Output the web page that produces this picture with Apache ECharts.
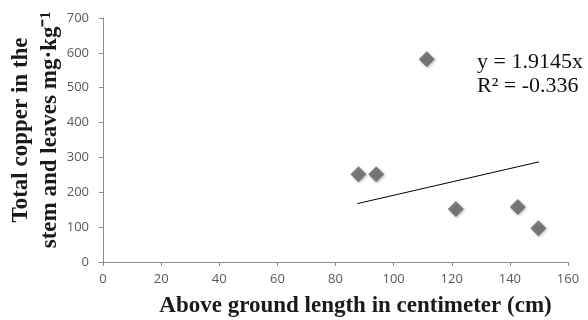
<!DOCTYPE html>
<html><head><meta charset="utf-8">
<script src="https://cdn.jsdelivr.net/npm/echarts@6/dist/echarts.min.js"></script>
<style>html,body{margin:0;padding:0;background:#fff}#c{width:588px;height:320px}</style>
</head><body><div id="c"></div>
<script>
const lengthCm = [87.9, 94.0, 111.4, 121.4, 142.7, 149.8];
const copperMgKg = [252, 252, 582, 152, 158, 97];
const trendX = [87.5, 150];
const trendY = [167.5, 287.2];
const xTicks = [0, 20, 40, 60, 80, 100, 120, 140, 160];
const yTicks = [0, 100, 200, 300, 400, 500, 600, 700];
const equationLines = ['y = 1.9145x', 'R² = -0.336'];
const yTitleLines = ['Total copper in the', 'stem and leaves mg·kg⁻¹'];

const chart = echarts.init(document.getElementById('c'));
const axisCommon = {
  axisLine: {show: true, lineStyle: {color: '#8c8c8c', width: 1}},
  axisTick: {show: true, inside: false, length: 4, lineStyle: {color: '#8c8c8c'}},
  splitLine: {show: false},
  axisLabel: {color: '#595959', fontSize: 13, fontFamily: 'Open Sans'}
};
const titleFont = 'bold 23px "Liberation Serif"';
chart.setOption({
  animation: false,
  grid: {left: 103, right: 20, top: 18, bottom: 58, containLabel: false, outerBoundsMode: 'none'},
  xAxis: Object.assign({}, axisCommon, {
    type: 'value', min: xTicks[0], max: xTicks[xTicks.length - 1], interval: 20,
    axisLabel: Object.assign({}, axisCommon.axisLabel, {margin: 11}),
    name: 'Above ground length in centimeter (cm)', nameLocation: 'middle', nameGap: 33,
    nameTextStyle: {fontFamily: 'Liberation Serif', fontWeight: 'bold', fontSize: 23, color: '#1a1a1a', padding: [0, 0, 0, 40]}
  }),
  yAxis: Object.assign({}, axisCommon, {
    type: 'value', min: yTicks[0], max: yTicks[yTicks.length - 1], interval: 100,
    axisLabel: Object.assign({}, axisCommon.axisLabel, {margin: 14})
  }),
  series: [
    {type: 'line', data: trendX.map((x, i) => [x, trendY[i]]), symbol: 'none',
     lineStyle: {color: '#000', width: 1}, silent: true},
    {type: 'scatter', data: lengthCm.map((x, i) => [x, copperMgKg[i]]), symbol: 'diamond', symbolSize: 16,
     itemStyle: {color: '#626262', shadowColor: 'rgba(0,0,0,0.35)', shadowBlur: 3, shadowOffsetX: 1, shadowOffsetY: 1}}
  ],
  graphic: [
    {type: 'text', x: 21, y: 130, rotation: Math.PI / 2,
     style: {text: yTitleLines[0], font: titleFont, fill: '#1a1a1a', align: 'center', verticalAlign: 'middle'}},
    {type: 'text', x: 50, y: 130, rotation: Math.PI / 2,
     style: {text: yTitleLines[1], font: titleFont, fill: '#1a1a1a', align: 'center', verticalAlign: 'middle'}},
    {type: 'text', left: 477, top: 51, style: {text: equationLines[0], font: '22px "Liberation Serif"', fill: '#111'}},
    {type: 'text', left: 477, top: 75, style: {text: equationLines[1], font: '22px "Liberation Serif"', fill: '#111'}}
  ]
});
</script></body></html>
